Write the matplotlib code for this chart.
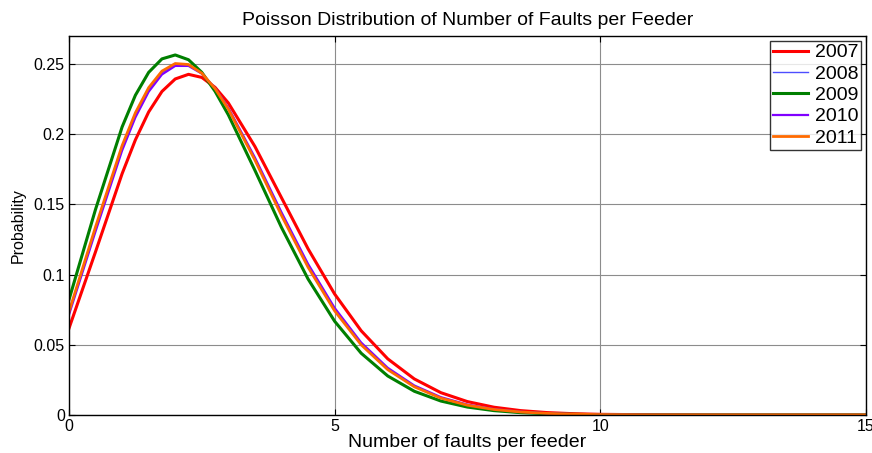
import matplotlib
matplotlib.use("Agg")
import matplotlib.pyplot as plt

plt.rcParams['font.family'] = ['Liberation Sans', 'DejaVu Sans']

# Number of faults per feeder (x) and probability for each year
faults = [0, 0.5, 1, 1.25, 1.5, 1.75, 2, 2.25, 2.5, 2.75, 3, 3.5, 4, 4.5, 5,
          5.5, 6, 6.5, 7, 7.5, 8, 8.5, 9, 9.5, 10, 11, 12, 13, 14, 15]

p2007 = [0.0617, 0.1163, 0.1719, 0.1960, 0.2159, 0.2305, 0.2394, 0.2427, 0.2405,
         0.2334, 0.2223, 0.1913, 0.1548, 0.1184, 0.0862, 0.0600, 0.0400, 0.0257,
         0.0159, 0.00954, 0.00554, 0.00313, 0.00171, 0.00092, 0.00048,
         0.00012, 0.00003, 0.0, 0.0, 0.0]
p2008 = [0.0724, 0.1324, 0.1902, 0.2137, 0.2318, 0.2438, 0.2496, 0.2492, 0.2434,
         0.2327, 0.2184, 0.1825, 0.1433, 0.1065, 0.0753, 0.0508, 0.0330, 0.0206,
         0.0124, 0.00718, 0.00406, 0.00222, 0.00118, 0.00061, 0.00031,
         0.00007, 0.00002, 0.0, 0.0, 0.0]
p2009 = [0.0821, 0.1465, 0.2052, 0.2278, 0.2441, 0.2537, 0.2565, 0.2531, 0.2441,
         0.2306, 0.2138, 0.1743, 0.1336, 0.0969, 0.0668, 0.0440, 0.0278, 0.0169,
         0.00994, 0.00564, 0.00311, 0.00166, 0.00086, 0.00044, 0.00022,
         0.00005, 0.00001, 0.0, 0.0, 0.0]
p2010 = [0.0714, 0.1308, 0.1884, 0.2120, 0.2303, 0.2426, 0.2487, 0.2487, 0.2432,
         0.2329, 0.2188, 0.1834, 0.1444, 0.1076, 0.0763, 0.0516, 0.0336, 0.0210,
         0.0127, 0.00738, 0.00418, 0.00229, 0.00122, 0.00064, 0.00032,
         0.00008, 0.00002, 0.0, 0.0, 0.0]
p2011 = [0.0735, 0.1340, 0.1919, 0.2153, 0.2332, 0.2450, 0.2504, 0.2497, 0.2435,
         0.2325, 0.2179, 0.1816, 0.1422, 0.1053, 0.0742, 0.0500, 0.0323, 0.0201,
         0.0120, 0.00698, 0.00393, 0.00214, 0.00114, 0.00059, 0.00030,
         0.00007, 0.00002, 0.0, 0.0, 0.0]

years = ['2007', '2008', '2009', '2010', '2011']
series = [p2007, p2008, p2009, p2010, p2011]
colors = ['#ff0000', '#4d4dff', '#007f00', '#8000ff', '#ff6a00']
widths = [2.2, 1.0, 2.2, 1.6, 2.0]

x_ticks = [0, 5, 10, 15]
y_ticks = [0, 0.05, 0.1, 0.15, 0.2, 0.25]
y_tick_labels = ['0', '0.05', '0.1', '0.15', '0.2', '0.25']

fig = plt.figure(figsize=(8.72, 4.53), dpi=100)
ax = fig.add_axes([0.0791, 0.0839, 0.9139, 0.8366])

for yr, vals, c, lw in zip(years, series, colors, widths):
    ax.plot(faults, vals, color=c, lw=lw, label=yr, solid_joinstyle='round')

ax.set_xlim(0, 15)
ax.set_ylim(0, 0.27)
ax.set_xticks(x_ticks)
ax.set_xticklabels([str(t) for t in x_ticks])
ax.set_yticks(y_ticks)
ax.set_yticklabels(y_tick_labels)
ax.tick_params(direction='in', length=4, width=0.8, labelsize=11.5,
               top=True, right=True, pad=3)
ax.grid(True, color='#8c8c8c', lw=0.8)
for s in ax.spines.values():
    s.set_linewidth(1.0)
    s.set_color('black')

ax.set_title('Poisson Distribution of Number of Faults per Feeder', fontsize=14, pad=8)
ax.set_xlabel('Number of faults per feeder', fontsize=14, labelpad=0)
ax.set_ylabel('Probability', fontsize=11.5, labelpad=6)

leg = ax.legend(loc='upper right', fontsize=14, frameon=True, fancybox=False,
                edgecolor='black', borderpad=0.15, labelspacing=0.19,
                handlelength=1.8, handletextpad=0.35, borderaxespad=0.25)
leg.get_frame().set_linewidth(1.0)

fig.savefig('out.png', dpi=100)
